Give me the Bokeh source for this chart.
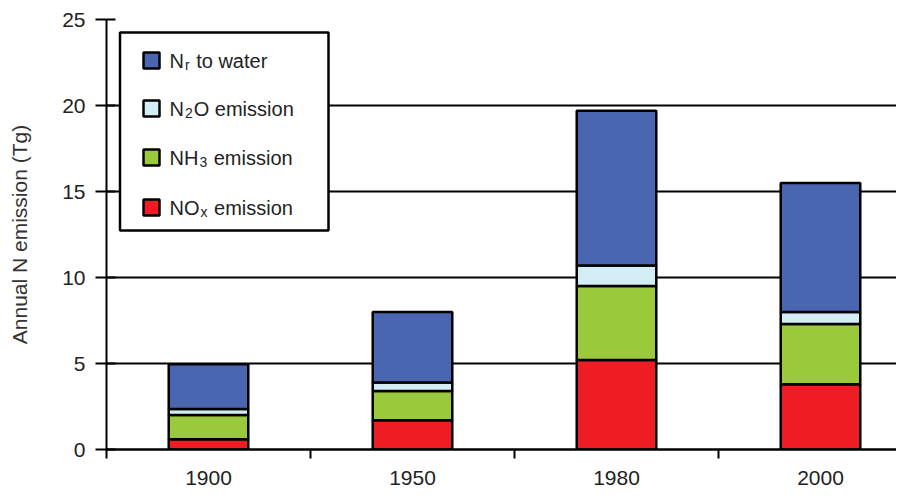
from bokeh.plotting import figure
from bokeh.models import (ColumnDataSource, Range1d, FixedTicker, BoxAnnotation, Label)
from bokeh.embed import file_html
from bokeh.resources import INLINE

# ---- data ----
years = ["1900", "1950", "1980", "2000"]
nox_emission = [0.6, 1.7, 5.2, 3.8]
nh3_emission = [1.4, 1.7, 4.3, 3.5]
n2o_emission = [0.35, 0.5, 1.2, 0.7]
nr_to_water = [2.6, 4.1, 9.0, 7.5]
y_ticks = [0, 5, 10, 15, 20, 25]

series = ["nox", "nh3", "n2o", "water"]
colors = ["#EE1D24", "#9BC93C", "#D3EDF4", "#4A66B0"]

NBSP = "\u00a0"
# legend: list of (segments) where segment = (text, is_subscript)
legend_rows = [
    ([("N", False), ("r", True), (NBSP + "to water", False)], "#4A66B0"),
    ([("N", False), ("2", True), ("O" + NBSP + "emission", False)], "#D3EDF4"),
    ([("NH", False), ("3", True), (NBSP + "emission", False)], "#9BC93C"),
    ([("NO", False), ("x", True), (NBSP + "emission", False)], "#EE1D24"),
]

FONT = "Liberation Sans"
W, H = 896, 488
ML, MT, MB, MR = 106, 19, 39, 0
FW, FH = W - ML - MR, H - MT - MB
X_END = FW / 204.0
Y_END = 25

xpos = [i + 0.5 for i in range(len(years))]
source = ColumnDataSource(dict(x=xpos, nox=nox_emission, nh3=nh3_emission,
                               n2o=n2o_emission, water=nr_to_water))

p = figure(width=W, height=H, output_backend="svg", toolbar_location=None,
           x_range=Range1d(0, X_END), y_range=Range1d(0, Y_END),
           min_border=0, min_border_left=ML, min_border_top=MT,
           min_border_bottom=MB, min_border_right=MR)
p.outline_line_color = None
p.background_fill_color = "white"
p.border_fill_color = "white"

p.vbar_stack(series, x="x", width=0.39, color=colors, line_color="black",
             line_width=2.5, source=source)

# grid
p.xgrid.visible = False
p.ygrid.grid_line_color = "black"
p.ygrid.grid_line_width = 2

# y axis
p.yaxis.ticker = FixedTicker(ticks=y_ticks)
p.yaxis.axis_line_width = 2
p.yaxis.major_tick_line_width = 2
p.yaxis.major_tick_out = 11
p.yaxis.major_tick_in = 9
p.yaxis.minor_tick_line_color = None
p.yaxis.major_label_standoff = 10
p.yaxis.major_label_text_font = FONT
p.yaxis.major_label_text_font_size = "21px"
p.yaxis.major_label_text_color = "#222222"
p.yaxis.axis_label = "Annual N emission (Tg)"
p.yaxis.axis_label_text_font = FONT
p.yaxis.axis_label_text_font_size = "21px"
p.yaxis.axis_label_text_font_style = "normal"
p.yaxis.axis_label_text_color = "#333333"
p.yaxis.axis_label_standoff = 28

# x axis
p.xaxis.ticker = FixedTicker(ticks=xpos, minor_ticks=list(range(len(years) + 1)))
p.xaxis.major_label_overrides = {x: y for x, y in zip(xpos, years)}
p.xaxis.axis_line_width = 2.5
p.xaxis.major_tick_line_color = None
p.xaxis.major_tick_out = 0
p.xaxis.major_tick_in = 0
p.xaxis.minor_tick_line_width = 2
p.xaxis.minor_tick_line_color = "black"
p.xaxis.minor_tick_out = 9
p.xaxis.minor_tick_in = 0
p.xaxis.major_label_standoff = 12
p.xaxis.major_label_text_font = FONT
p.xaxis.major_label_text_font_size = "21px"
p.xaxis.major_label_text_color = "#222222"

# ---- legend (manual, for subscripts) ----
def dx(px):
    return X_END * (px - ML) / FW

def dy(py):
    return Y_END * (MT + FH - py) / FH

p.add_layout(BoxAnnotation(left=dx(119.5), right=dx(328), top=dy(32), bottom=dy(230),
                           fill_color="white", fill_alpha=1.0,
                           line_color="black", line_alpha=1.0, line_width=2.5))

MAIN = 20
SUB = 14
widths = {"N": .722, "H": .722, "O": .778, "r": .333, "2": .556, "3": .556, "x": .5}
row_centers = [60, 108, 157, 207]
for (segs, col), c in zip(legend_rows, row_centers):
    p.add_layout(BoxAnnotation(left=dx(143), right=dx(159), top=dy(c - 8), bottom=dy(c + 8),
                               fill_color=col, fill_alpha=1.0, line_color="black",
                               line_alpha=1.0, line_width=2.5))
    xcur = 169
    base = c + 0.5
    for text, sub in segs:
        size = SUB if sub else MAIN
        if sub:
            xcur += 1
        p.add_layout(Label(x=dx(xcur), y=dy(base + (4 if sub else 0)), text=text,
                           text_font=FONT, text_font_size=f"{size}px",
                           text_color="#222222", text_baseline="alphabetic",
                           text_align="left"))
        xcur += sum(widths.get(ch, 0.5) for ch in text) * size
        if sub:
            xcur += 1

open("out.html", "w").write(file_html(p, INLINE))
